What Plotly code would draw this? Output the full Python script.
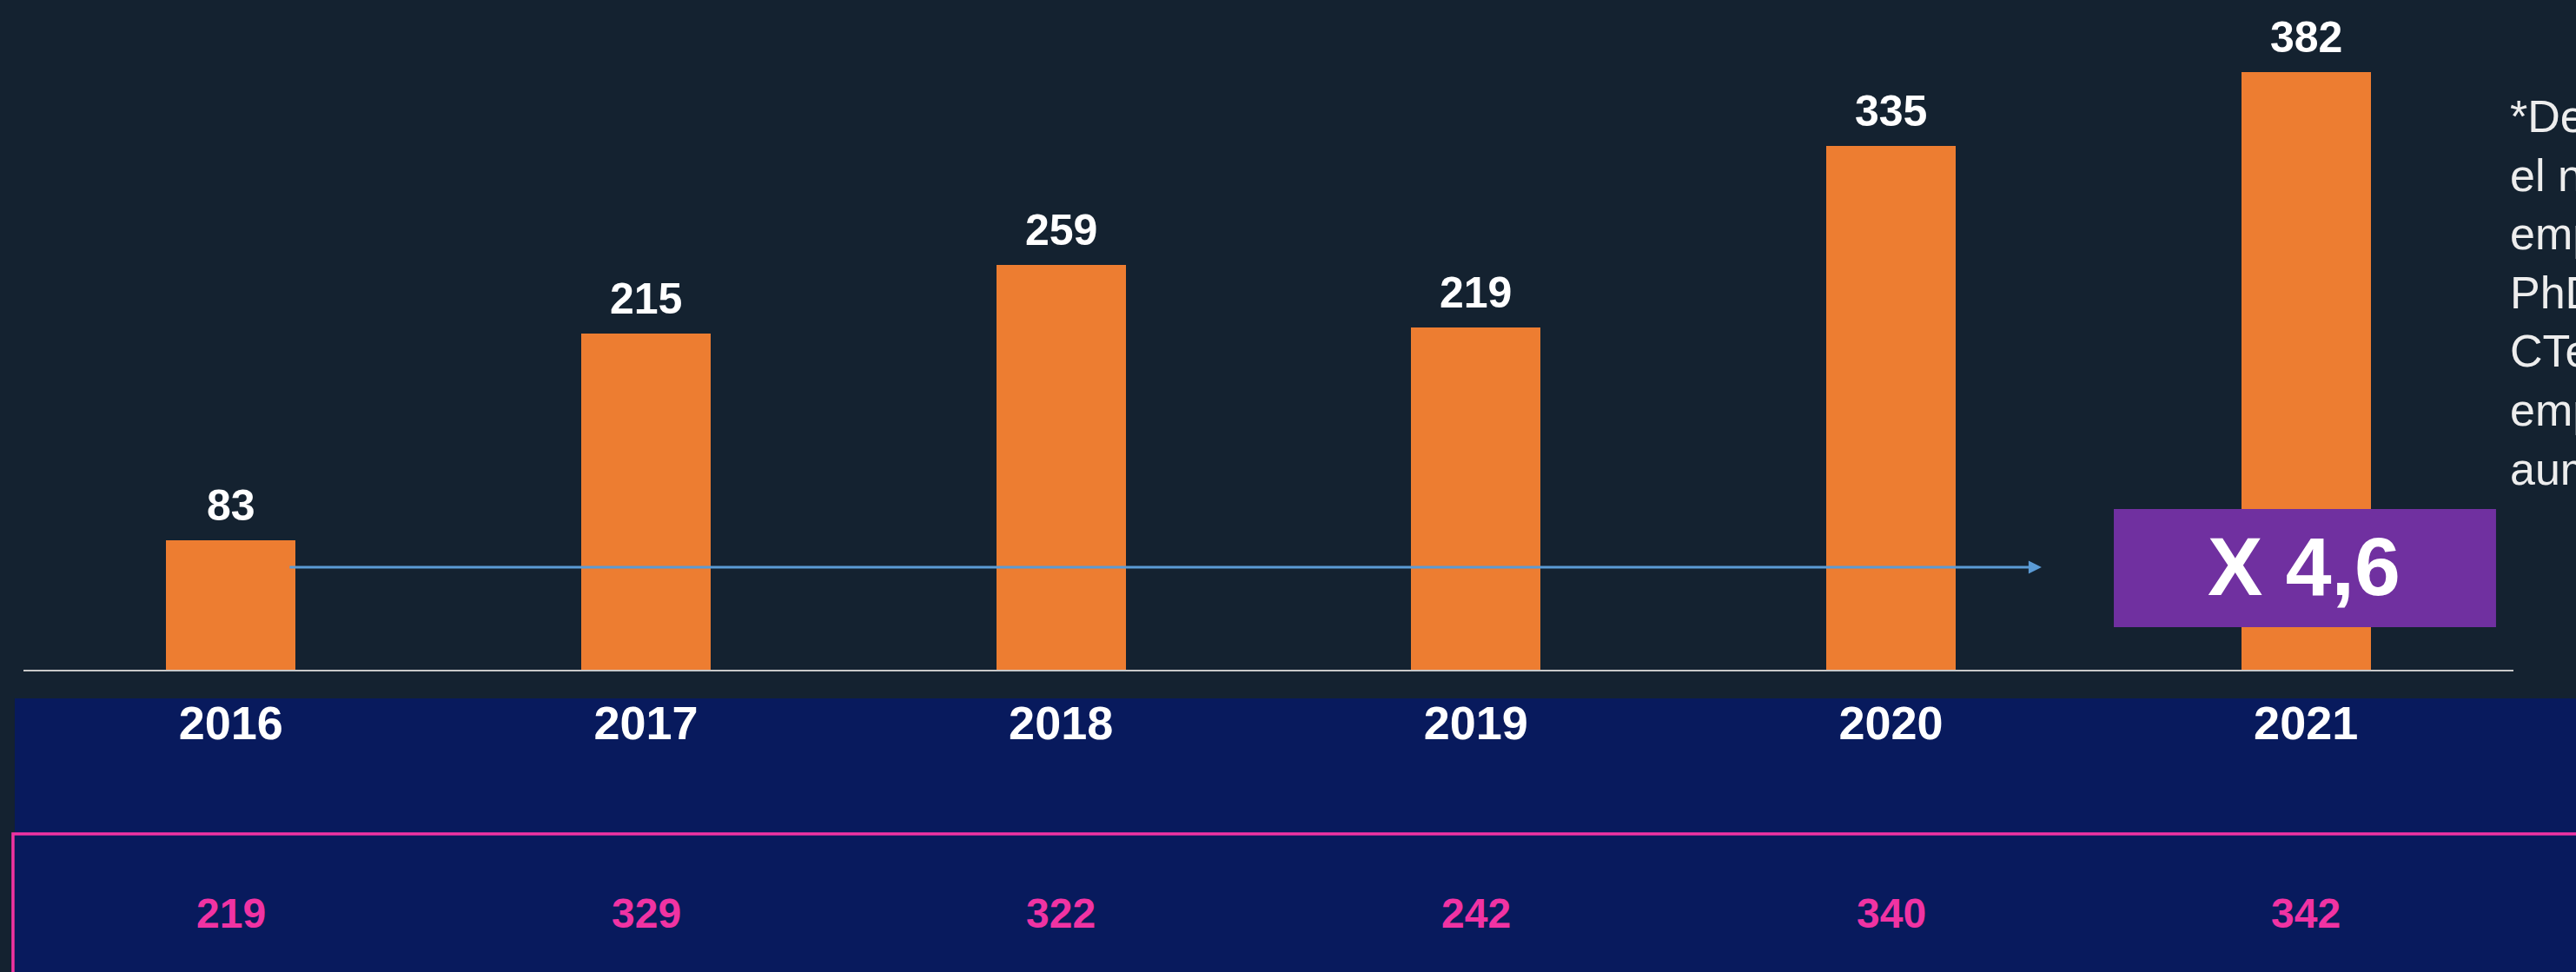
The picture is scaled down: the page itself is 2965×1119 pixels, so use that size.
import plotly.graph_objects as go

# ---- data ----
years = ["2016", "2017", "2018", "2019", "2020", "2021"]
bar_values = [83, 215, 259, 219, 335, 382]
second_row = [219, 329, 322, 242, 340, 342]
growth_label = "X 4,6"
note_lines = ["*Desde 2016,", "el número de", "empresas con", "PhD y personal",
              "CTeI en su", "empleo ha", "aumentado"]

# ---- styles ----
BG = "#142230"
NAVY = "#081A5D"
ORANGE = "#ED7D31"
PINK = "#F033A3"
PURPLE = "#7030A0"
ARROW = "#5B9BD5"
FONT = "Liberation Sans, Arial, sans-serif"

W, H = 2965, 1119
L, R, T, B = 27, 72, 0, 348

fig = go.Figure()
fig.add_trace(go.Bar(
    x=years, y=bar_values, width=0.312,
    marker=dict(color=ORANGE, line=dict(width=0)),
    hoverinfo="x+y", showlegend=False,
))

annotations = []
# bar value labels (category index positions on the x axis)
for i, v in enumerate(bar_values):
    annotations.append(dict(
        x=i, y=v, xref="x", yref="y", text=f"<b>{v}</b>", showarrow=False,
        yanchor="bottom", yshift=10,
        font=dict(family=FONT, size=50, color="white"),
    ))
# second row values (pink)
for i, v in enumerate(second_row):
    annotations.append(dict(
        x=i, y=-0.3632, xref="x", yref="paper", text=f"<b>{v}</b>", showarrow=False,
        yanchor="middle", font=dict(family=FONT, size=48, color=PINK),
    ))
# growth arrow
annotations.append(dict(
    x=0.8105, y=0.1530, xref="paper", yref="paper", text="", showarrow=True,
    ax=-2018, ay=0, axref="pixel", ayref="pixel",
    arrowhead=2, arrowsize=1, arrowwidth=3, arrowcolor=ARROW, standoff=0,
))
# growth label
annotations.append(dict(
    x=0.9159, y=0.1537, xref="paper", yref="paper", text=f"<b>{growth_label}</b>",
    showarrow=False, xanchor="center", yanchor="middle",
    font=dict(family=FONT, size=95, color="white"),
))
# side note (cut at the right edge, as in the reference)
annotations.append(dict(
    x=0.9979, y=0.5629, xref="paper", yref="paper", text="<br>".join(note_lines),
    showarrow=False, xanchor="left", yanchor="middle", align="left",
    font=dict(family=FONT, size=52, color="#EDEDED"),
))

shapes = [
    # navy band
    dict(type="rect", xref="paper", yref="paper", x0=-0.0035, x1=1.05, y0=-0.0428, y1=-0.5,
         fillcolor=NAVY, line=dict(width=0), layer="below"),
    # pink outline box
    dict(type="rect", xref="paper", yref="paper", x0=-0.0042, x1=1.05, y0=-0.2451, y1=-0.6,
         fillcolor="rgba(0,0,0,0)", line=dict(color=PINK, width=3.5), layer="below"),
    # purple growth box
    dict(type="rect", xref="paper", yref="paper", x0=0.8395, x1=0.9930, y0=0.0636, y1=0.2399,
         fillcolor=PURPLE, line=dict(width=0), layer="above"),
]

fig.update_layout(
    width=W, height=H,
    margin=dict(l=L, r=R, t=T, b=B, pad=0),
    paper_bgcolor=BG, plot_bgcolor="rgba(0,0,0,0)",
    annotations=annotations, shapes=shapes,
    xaxis=dict(
        type="category", range=[-0.5, 5.5], showgrid=False, zeroline=False,
        showline=True, linecolor="#C8C8C8", linewidth=2, ticks="",
        tickfont=dict(family=FONT, size=54, color="white"),
        ticklabelstandoff=13, tickprefix="<b>", ticksuffix="</b>",
    ),
    yaxis=dict(range=[0, 428.3], visible=False, showgrid=False, zeroline=False),
    bargap=0.0,
)

fig.write_html(
    "out.html",
    config={"displayModeBar": False},
    post_script="document.body.style.margin='0';document.body.style.overflow='hidden';",
)
